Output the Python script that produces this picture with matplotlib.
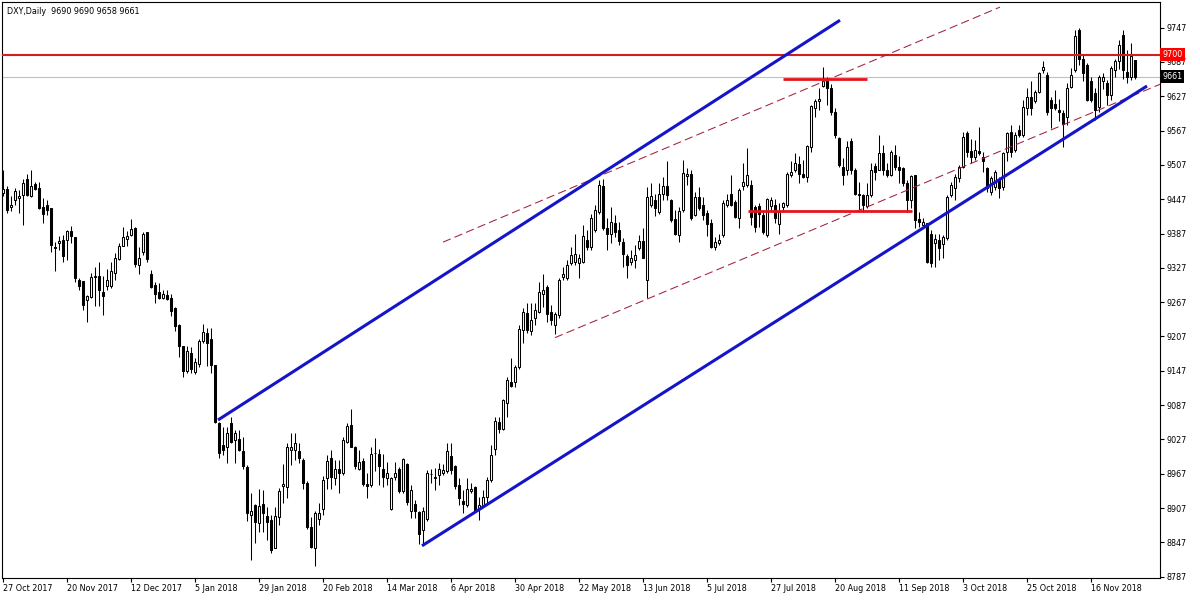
import numpy as np
import matplotlib
matplotlib.use("Agg")
import matplotlib.pyplot as plt
import matplotlib.transforms as mtransforms

# DXY daily candles (prices x100), bar index 0 = 27 Oct 2017
opens = [9458, 9465, 9433, 9445, 9449, 9455, 9482, 9452, 9474, 9466,
         9433, 9437, 9432, 9363, 9370, 9376, 9375, 9392, 9381, 9306,
         9304, 9271, 9276, 9311, 9313, 9284, 9296, 9296, 9318, 9343,
         9366, 9378, 9385, 9397, 9332, 9354, 9389, 9316, 9297, 9284,
         9275, 9279, 9275, 9257, 9227, 9190, 9147, 9179, 9145, 9159,
         9199, 9213, 9202, 9157, 9056, 9017, 9014, 9056, 9026, 9027,
         9006, 8979, 8895, 8912, 8881, 8914, 8893, 8886, 8838, 8891,
         8946, 8943, 9009, 9009, 9007, 8991, 8951, 8874, 8838, 8887,
         8906, 8959, 8994, 8959, 8976, 8968, 9023, 9052, 9013, 8975,
         8990, 8949, 8947, 9004, 9002, 8976, 8959, 8906, 8961, 8976,
         8936, 8984, 8901, 8914, 8900, 8869, 8887, 8966, 8959, 8965,
         8969, 8971, 8998, 8980, 8947, 8920, 8912, 8937, 8943, 8905,
         8912, 8927, 8956, 9010, 9058, 9045, 9091, 9128, 9128, 9153,
         9218, 9248, 9217, 9239, 9250, 9282, 9294, 9250, 9227, 9245,
         9311, 9309, 9336, 9338, 9336, 9338, 9376, 9364, 9394, 9425,
         9470, 9396, 9386, 9405, 9393, 9373, 9347, 9338, 9341, 9361,
         9374, 9306, 9437, 9446, 9425, 9457, 9470, 9446, 9412, 9384,
         9428, 9488, 9492, 9419, 9451, 9437, 9423, 9405, 9363, 9370,
         9384, 9437, 9456, 9443, 9414, 9470, 9472, 9472, 9434, 9435,
         9419, 9384, 9435, 9437, 9404, 9434, 9437, 9489, 9498, 9509,
         9491, 9486, 9539, 9606, 9618, 9645, 9654, 9641, 9600, 9554,
         9504, 9498, 9548, 9498, 9457, 9454, 9435, 9454, 9505, 9499,
         9527, 9498, 9489, 9524, 9504, 9501, 9476, 9446, 9489, 9412,
         9402, 9405, 9387, 9370, 9375, 9369, 9379, 9454, 9466, 9484,
         9504, 9562, 9531, 9521, 9531, 9520, 9501, 9460, 9469, 9483,
         9469, 9529, 9564, 9533, 9568, 9559, 9607, 9626, 9618, 9635,
         9673, 9665, 9620, 9613, 9603, 9597, 9591, 9644, 9673, 9743,
         9692, 9682, 9653, 9632, 9609, 9653, 9651, 9629, 9673, 9688,
         9734, 9670, 9661, 9690]
highs = [9498, 9470, 9452, 9466, 9464, 9482, 9491, 9498, 9478, 9478,
         9449, 9446, 9432, 9373, 9383, 9385, 9394, 9401, 9381, 9309,
         9304, 9280, 9318, 9329, 9338, 9312, 9325, 9338, 9353, 9370,
         9398, 9392, 9412, 9398, 9364, 9390, 9389, 9323, 9303, 9301,
         9288, 9288, 9281, 9259, 9229, 9190, 9190, 9189, 9169, 9202,
         9229, 9221, 9221, 9157, 9058, 9049, 9049, 9067, 9043, 9043,
         9031, 8982, 8933, 8914, 8940, 8939, 8909, 8895, 8909, 8942,
         8984, 9021, 9038, 9038, 9020, 8994, 8955, 8892, 8901, 8915,
         8963, 9000, 9009, 8991, 8991, 9032, 9056, 9080, 9016, 9009,
         8994, 8969, 9014, 9029, 9011, 9002, 8988, 8962, 8988, 8979,
         8994, 8986, 8947, 8921, 8901, 8908, 8974, 8975, 8977, 8986,
         8984, 9020, 9020, 8982, 8959, 8939, 8959, 8950, 8945, 8927,
         8939, 8962, 9017, 9067, 9067, 9097, 9137, 9169, 9157, 9227,
         9256, 9265, 9266, 9266, 9303, 9317, 9297, 9262, 9250, 9310,
         9329, 9341, 9364, 9387, 9352, 9402, 9393, 9422, 9437, 9481,
         9483, 9414, 9434, 9419, 9408, 9379, 9352, 9358, 9367, 9384,
         9396, 9469, 9475, 9457, 9475, 9486, 9513, 9447, 9428, 9434,
         9516, 9501, 9498, 9460, 9469, 9451, 9428, 9412, 9381, 9387,
         9446, 9457, 9489, 9446, 9466, 9510, 9536, 9481, 9437, 9440,
         9425, 9449, 9451, 9447, 9440, 9443, 9495, 9513, 9527, 9523,
         9516, 9542, 9612, 9623, 9641, 9679, 9661, 9648, 9606, 9556,
         9519, 9548, 9554, 9501, 9478, 9457, 9475, 9510, 9510, 9559,
         9542, 9510, 9533, 9542, 9523, 9504, 9481, 9489, 9489, 9425,
         9414, 9405, 9393, 9387, 9387, 9384, 9454, 9478, 9492, 9507,
         9565, 9566, 9553, 9551, 9574, 9530, 9504, 9487, 9498, 9486,
         9530, 9565, 9577, 9565, 9577, 9620, 9641, 9653, 9638, 9670,
         9689, 9670, 9626, 9638, 9623, 9603, 9650, 9677, 9743, 9746,
         9699, 9685, 9661, 9642, 9664, 9667, 9656, 9680, 9693, 9726,
         9743, 9708, 9720, 9690]
lows = [9452, 9423, 9426, 9437, 9423, 9402, 9452, 9451, 9464, 9430,
        9406, 9420, 9354, 9322, 9359, 9338, 9341, 9370, 9303, 9289,
        9254, 9233, 9274, 9260, 9260, 9245, 9289, 9292, 9306, 9341,
        9366, 9365, 9382, 9328, 9317, 9350, 9338, 9291, 9266, 9272,
        9273, 9271, 9243, 9217, 9171, 9137, 9144, 9143, 9141, 9154,
        9195, 9156, 9144, 9056, 8994, 9000, 8985, 9020, 8985, 9006,
        8976, 8885, 8816, 8846, 8866, 8866, 8851, 8828, 8837, 8877,
        8915, 8924, 8982, 8991, 8986, 8940, 8870, 8837, 8806, 8877,
        8895, 8940, 8941, 8947, 8934, 8965, 9021, 9013, 8976, 8974,
        8946, 8924, 8944, 8971, 8947, 8944, 8947, 8903, 8956, 8933,
        8933, 8912, 8889, 8889, 8845, 8843, 8885, 8950, 8939, 8947,
        8965, 8968, 8967, 8941, 8912, 8898, 8909, 8934, 8902, 8886,
        8909, 8915, 8953, 9000, 9038, 9043, 9067, 9119, 9119, 9151,
        9195, 9213, 9210, 9227, 9248, 9259, 9233, 9227, 9212, 9240,
        9306, 9306, 9332, 9332, 9309, 9335, 9358, 9358, 9390, 9422,
        9393, 9358, 9370, 9381, 9367, 9329, 9309, 9332, 9326, 9358,
        9344, 9274, 9434, 9417, 9422, 9446, 9446, 9408, 9384, 9373,
        9425, 9472, 9411, 9417, 9428, 9411, 9383, 9361, 9358, 9367,
        9381, 9434, 9435, 9414, 9396, 9463, 9469, 9402, 9390, 9399,
        9387, 9381, 9428, 9405, 9387, 9428, 9434, 9486, 9495, 9475,
        9484, 9478, 9530, 9591, 9603, 9644, 9612, 9594, 9554, 9504,
        9472, 9489, 9492, 9454, 9425, 9425, 9431, 9451, 9481, 9498,
        9489, 9486, 9488, 9498, 9475, 9470, 9425, 9431, 9396, 9399,
        9399, 9335, 9329, 9329, 9341, 9344, 9376, 9451, 9446, 9478,
        9501, 9521, 9510, 9516, 9524, 9495, 9460, 9454, 9463, 9449,
        9463, 9513, 9521, 9530, 9556, 9556, 9594, 9594, 9615, 9632,
        9667, 9594, 9571, 9603, 9583, 9539, 9577, 9641, 9670, 9682,
        9653, 9618, 9617, 9586, 9600, 9640, 9612, 9620, 9660, 9675,
        9658, 9650, 9655, 9658]
closes = [9465, 9428, 9437, 9461, 9453, 9475, 9455, 9471, 9465, 9432,
          9422, 9428, 9367, 9362, 9374, 9347, 9392, 9382, 9309, 9296,
          9262, 9277, 9311, 9312, 9288, 9277, 9306, 9321, 9345, 9366,
          9381, 9383, 9395, 9334, 9344, 9387, 9342, 9294, 9281, 9274,
          9281, 9273, 9252, 9226, 9191, 9147, 9182, 9151, 9162, 9199,
          9214, 9196, 9157, 9058, 9004, 9008, 9038, 9023, 9038, 9008,
          8980, 8898, 8902, 8883, 8911, 8898, 8883, 8834, 8893, 8937,
          8949, 9013, 9013, 9021, 8994, 8950, 8874, 8839, 8898, 8899,
          8956, 8990, 8961, 8975, 8969, 9026, 9051, 9014, 8981, 8988,
          8949, 8946, 9002, 9003, 8981, 8961, 8968, 8959, 8968, 8936,
          8992, 8918, 8939, 8901, 8862, 8902, 8968, 8967, 8962, 8975,
          8973, 9006, 8974, 8946, 8924, 8914, 8940, 8941, 8904, 8912,
          8927, 8956, 9000, 9060, 9046, 9096, 9131, 9120, 9154, 9220,
          9249, 9218, 9235, 9253, 9284, 9288, 9247, 9235, 9246, 9306,
          9317, 9332, 9349, 9352, 9344, 9383, 9364, 9414, 9428, 9472,
          9396, 9387, 9408, 9390, 9374, 9352, 9332, 9345, 9349, 9374,
          9345, 9451, 9453, 9431, 9457, 9470, 9454, 9411, 9386, 9427,
          9493, 9491, 9414, 9451, 9431, 9419, 9404, 9364, 9373, 9376,
          9440, 9446, 9437, 9416, 9463, 9478, 9489, 9416, 9399, 9422,
          9390, 9447, 9446, 9414, 9425, 9440, 9492, 9495, 9511, 9492,
          9486, 9540, 9610, 9618, 9623, 9653, 9641, 9600, 9559, 9507,
          9489, 9539, 9498, 9457, 9454, 9437, 9454, 9498, 9495, 9527,
          9499, 9489, 9529, 9504, 9498, 9475, 9446, 9487, 9411, 9408,
          9408, 9338, 9335, 9377, 9361, 9381, 9451, 9472, 9486, 9504,
          9556, 9530, 9521, 9533, 9527, 9513, 9466, 9485, 9495, 9466,
          9527, 9562, 9530, 9559, 9559, 9609, 9626, 9607, 9635, 9667,
          9679, 9599, 9606, 9606, 9599, 9578, 9642, 9664, 9732, 9693,
          9667, 9620, 9621, 9603, 9661, 9661, 9629, 9676, 9688, 9717,
          9673, 9660, 9697, 9661]

date_labels = ["27 Oct 2017", "20 Nov 2017", "12 Dec 2017", "5 Jan 2018",
               "29 Jan 2018", "20 Feb 2018", "14 Mar 2018", "6 Apr 2018",
               "30 Apr 2018", "22 May 2018", "13 Jun 2018", "5 Jul 2018",
               "27 Jul 2018", "20 Aug 2018", "11 Sep 2018", "3 Oct 2018",
               "25 Oct 2018", "16 Nov 2018"]
price_ticks = list(range(8787, 9748, 60))

# drawn objects: (bar start, price start, bar end, price end)
channel_upper = (53.75, 9061, 209.25, 9760)
channel_lower = (104.75, 8841, 286.0, 9645)
dash_upper = (110.0, 9372, 249.25, 9783)
dash_lower = (138.0, 9205, 289.25, 9648)
resist_seg = (195.0, 9658, 216.0, 9658)
support_seg = (186.25, 9426, 227.25, 9426)
level_9700 = 9700
last_price = 9661

plt.rcParams["font.family"] = "DejaVu Sans"
fs = 5.8

fig = plt.figure(figsize=(12, 6), dpi=100)
ax = fig.add_axes([2 / 1200, 22 / 600, 1158 / 1200, 576 / 600])

o = np.array(opens, dtype=float)
h = np.array(highs, dtype=float)
l = np.array(lows, dtype=float)
c = np.array(closes, dtype=float)
x = np.arange(len(c))

# candles
ax.vlines(x, l, h, color="black", linewidth=0.75, zorder=2)
bottom = np.minimum(o, c)
height = np.maximum(np.abs(c - o), 0.8)
face = np.where(c >= o, "white", "black")
ax.bar(x, height, bottom=bottom, width=0.5, color=face, edgecolor="black",
       linewidth=0.75, zorder=3)

# level lines
ax.axhline(last_price, color="#c0c0c0", linewidth=0.8, zorder=1)
ax.axhline(level_9700, color="#d21e1e", linewidth=1.5, zorder=4)

for seg in (dash_upper, dash_lower):
    ax.plot([seg[0], seg[2]], [seg[1], seg[3]], color="#a3203a",
            linewidth=0.75, dashes=(8, 4), zorder=4)
for seg in (channel_upper, channel_lower):
    ax.plot([seg[0], seg[2]], [seg[1], seg[3]], color="#1414c8",
            linewidth=2.2, solid_capstyle="butt", zorder=5)
for seg in (resist_seg, support_seg):
    ax.plot([seg[0], seg[2]], [seg[1], seg[3]], color="#e8141c",
            linewidth=2.0, solid_capstyle="butt", zorder=5)

ax.set_xlim(-0.25, 289.25)
ax.set_ylim(8784.7, 9791.9)

# axes styling
for s in ax.spines.values():
    s.set_color("black")
    s.set_linewidth(0.8)
ax.yaxis.tick_right()
ax.set_yticks(price_ticks)
ax.set_yticklabels([str(p) for p in price_ticks], fontsize=fs)
ax.tick_params(axis="y", direction="out", length=3, width=0.8, pad=2)
ax.set_xticks(np.arange(len(date_labels)) * 16)
ax.set_xticklabels(date_labels, fontsize=fs, ha="left")
ax.tick_params(axis="x", direction="out", length=3, width=0.8, pad=1.5)

# price tags on the right scale
trans = mtransforms.blended_transform_factory(ax.transAxes, ax.transData)
ax.text(1.002, level_9700, "9700", transform=trans, ha="left", va="center",
        fontsize=fs, color="white", zorder=10, clip_on=False,
        bbox=dict(boxstyle="square,pad=0.25", fc="#ff0000", ec="none"))
ax.text(1.002, last_price, "9661", transform=trans, ha="left", va="center",
        fontsize=fs, color="white", zorder=10, clip_on=False,
        bbox=dict(boxstyle="square,pad=0.25", fc="black", ec="none"))

ax.text(0.004, 0.992, "DXY,Daily  9690 9690 9658 9661", transform=ax.transAxes,
        ha="left", va="top", fontsize=fs, color="black")

fig.savefig("out.png", dpi=100, facecolor="white")
